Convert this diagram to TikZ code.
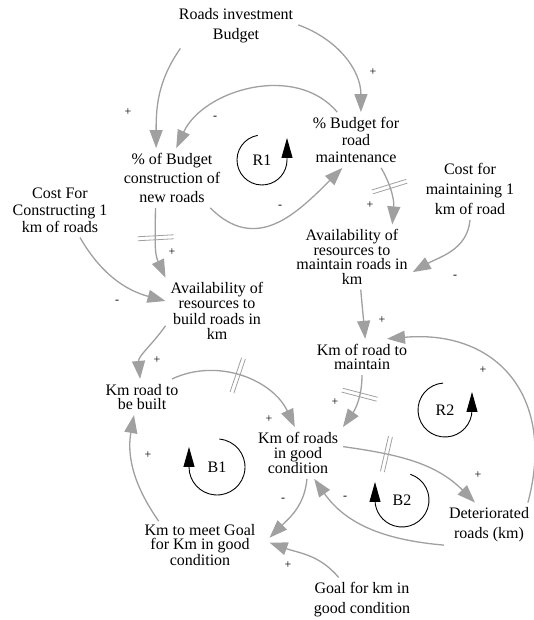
\documentclass[tikz,border=0pt]{standalone}
\usepackage{fontspec}
\setmainfont{Liberation Serif}
\usepackage{tikz}
\usetikzlibrary{arrows.meta}
\usetikzlibrary{decorations.markings}
\definecolor{linkgray}{RGB}{160,160,160}
\newcommand\varfont[1]{\fontsize{16}{#1}\selectfont}
\tikzset{
  cvar/.style={align=center, inner sep=5pt, font=\varfont{#1}},
  cvar/.default=17,
  looplabel/.style={font=\fontsize{16}{17}\selectfont, inner sep=1pt},
  polarity/.style={font=\fontsize{12}{12}\selectfont, inner sep=0pt},
  cause/.style={draw=linkgray, line width=1.3pt, -{Triangle[length=18pt,width=13pt]}},
  loopline/.style={draw=black, line width=0.9pt, -{Triangle[length=20pt,width=11pt]}},
  delaymark/.style={postaction={decorate, decoration={markings,
    mark=at position #1 with {\draw[-, linkgray, line width=0.8pt] (-2,-18) -- (-2,18) (2,-18) -- (2,18);}}}}
}

\begin{document}
\begin{tikzpicture}[x=1pt, y=1pt]
\useasboundingbox (0,0) rectangle (533,620);

% variables
\node[cvar=20] (budget) at (236,594) {Roads investment\\Budget};
\node[cvar=17] (pctmaint) at (356,480) {\% Budget for\\road\\maintenance};
\node[cvar=19] (pctcons) at (172,442) {\% of Budget\\construction of\\new roads};
\node[cvar=17] (costcons) at (60,410) {Cost For\\Constructing 1\\km of roads};
\node[cvar=20] (costmaint) at (470,431) {Cost for\\maintaining 1\\km of road};
\node[cvar=14.5] (availmaint) at (352,363) {Availability of\\resources to\\maintain roads in\\km};
\node[cvar=15.5] (availbuild) at (217,309) {Availability of\\resources to\\build roads in\\km};
\node[cvar=14.5] (kmmaint) at (362,263) {Km of road to\\maintain};
\node[cvar=14.5] (kmbuilt) at (142,223) {Km road to\\be built};
\node[cvar=14.5] (kmgood) at (298,167) {Km of roads\\in good\\condition};
\node[cvar=14.5, inner xsep=14pt, inner ysep=3pt] (kmgoal) at (200,75) {Km to meet Goal\\for Km in good\\condition};
\node[cvar=20] (goal) at (362,20) {Goal for km in\\good condition};
\node[cvar=20] (deter) at (489,95) {Deteriorated\\roads (km)};

% loops
\node[looplabel] (r1) at (262,460) {R1};
\node[looplabel] (b1) at (217,153) {B1};
\node[looplabel] (r2) at (445,210) {R2};
\node[looplabel] (b2) at (402,120) {B2};
\draw[loopline] (r1.center) ++(100:25) arc[start angle=100, end angle=360, radius=25] -- ++(0,22);
\draw[loopline] (b1.center) ++(85:28) arc[start angle=85, end angle=-180, radius=28] -- ++(0,20);
\draw[loopline] (r2.center) ++(94:27) arc[start angle=94, end angle=360, radius=27] -- ++(0,18);
\draw[loopline] (b2.center) ++(72:27) arc[start angle=72, end angle=-180, radius=27] -- ++(0,18);

% links
\draw[cause] (budget.202) to[out=-125, in=90] (pctcons.118);
\draw[cause] (budget.1) to[out=-20, in=90] (pctmaint.80);
\draw[cause] (pctmaint.124) to[out=130, in=65] (pctcons.82);
\draw[cause] (pctcons.-38) to[out=-45, in=-135, looseness=1.2] (pctmaint.244);
\draw[cause, delaymark=0.35] (pctmaint.-48) to[out=-60, in=85] (availmaint.39);
\draw[cause] (costmaint.-90) to[out=-95, in=30] (availmaint.-14);
\draw[cause, delaymark=0.42] (pctcons.241) to[out=-90, in=115] (availbuild.147);
\draw[cause] (costcons.-54) to[out=-60, in=165] (availbuild.169);
\draw[cause] (availbuild.196) to[out=-125, in=95] (kmbuilt.96);
\draw[cause] (availmaint.-75) to[out=-85, in=95] (kmmaint.80);
\draw[cause, delaymark=0.46] (kmbuilt.31) to[out=25, in=115] (kmgood.97);
\draw[cause, delaymark=0.35] (kmmaint.-90) to[out=-90, in=55] (kmgood.30);
\draw[cause, delaymark=0.3] (kmgood.8) to[out=-8, in=135] (deter.122);
\draw[cause] (deter.30) to[out=75, in=5, looseness=1.3] (kmmaint.36);
\draw[cause] (deter.204) to[out=175, in=-55] (kmgood.-58);
\draw[cause] (kmgood.-71) to[out=-95, in=45] (kmgoal.6);
\draw[cause] (goal.136) to[out=130, in=-20] (kmgoal.2);
\draw[cause] (kmgoal.150) to[out=125, in=-100] (kmbuilt.246);

% polarities
\foreach \n/\x/\y/\s in {1/128/508/+, 2/373/548/+, 3/215/502/-, 4/280/413/-,
  5/370/415/+, 6/455/343/-, 7/172/368/+, 8/117/318/-, 9/157/260/+,
  10/382/300/+, 11/269/201/+, 12/335/218/+, 13/478/145/+, 14/483/250/+,
  15/345/122/-, 16/283/120/-, 17/288/55/+, 18/148/165/+}
  {\node[polarity] (s\n) at (\x,\y) {\s};}

\end{tikzpicture}
\end{document}
